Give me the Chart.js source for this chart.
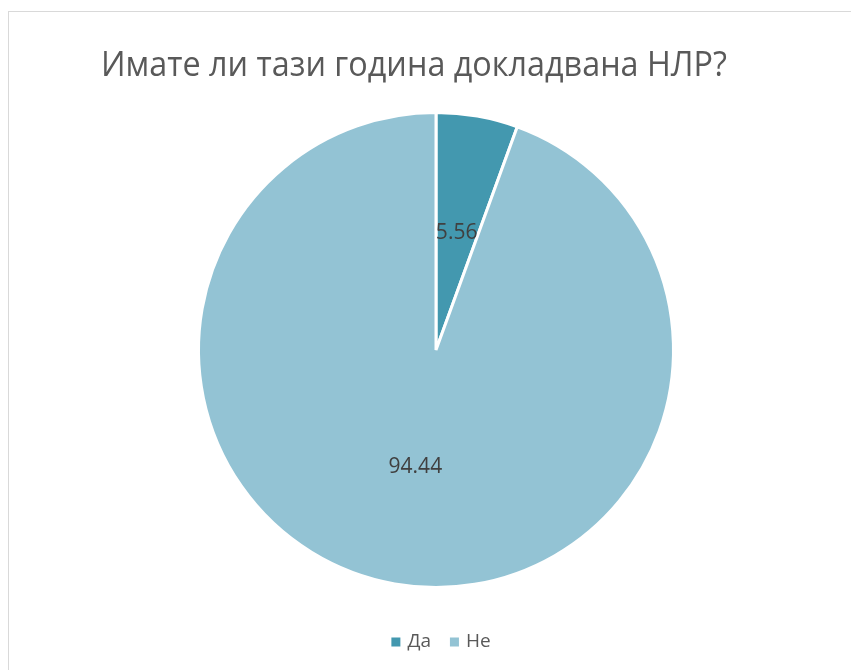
<!DOCTYPE html>
<html>
<head>
<meta charset="utf-8">
<script src="https://cdn.jsdelivr.net/npm/chart.js@4"></script>
<style>
  html, body { margin: 0; padding: 0; background: #fff; }
  #wrap { position: relative; width: 851px; height: 670px; overflow: hidden; }
  #frame { position: absolute; left: 8px; top: 11px; width: 900px; height: 700px;
           border-left: 1px solid #d9d9d9; border-top: 1px solid #d9d9d9; }
  #chart { position: absolute; left: 0; top: 0; }
</style>
</head>
<body>
<div id="wrap">
  <div id="frame"></div>
  <canvas id="chart" width="851" height="670"></canvas>
</div>
<script>
  // answers and their shares (%)
  const answers = ["Да", "Не"];
  const shares = [5.56, 94.44];
  const sliceColors = ["#4398AF", "#93C3D4"];
  const chartTitle = "Имате ли тази година докладвана НЛР?";

  // title drawn by hand so it can sit off the pie's centre line
  const titleText = {
    id: "titleText",
    afterDraw(chart) {
      const ctx = chart.ctx;
      ctx.save();
      ctx.font = "400 35px 'Open Sans'";
      ctx.fillStyle = "#595959";
      ctx.textAlign = "center";
      ctx.textBaseline = "alphabetic";
      const w = ctx.measureText(chartTitle).width;
      const sx = 626 / w;
      ctx.translate(414, 76);
      ctx.scale(sx, 1);
      ctx.fillText(chartTitle, 0, 0);
      ctx.restore();
    },
  };

  // value labels in the middle of each slice
  const sliceLabels = {
    id: "sliceLabels",
    afterDatasetsDraw(chart) {
      const ctx = chart.ctx;
      const meta = chart.getDatasetMeta(0);
      ctx.save();
      ctx.font = "21px 'Open Sans'";
      ctx.fillStyle = "#404040";
      ctx.textAlign = "center";
      ctx.textBaseline = "middle";
      meta.data.forEach((arc, i) => {
        const p = arc.tooltipPosition();
        ctx.fillText(shares[i].toFixed(2), p.x, p.y);
      });
      ctx.restore();
    },
  };

  // small square legend under the pie
  const bottomLegend = {
    id: "bottomLegend",
    afterDraw(chart) {
      const ctx = chart.ctx;
      ctx.save();
      ctx.font = "19px 'Open Sans'";
      ctx.textBaseline = "middle";
      const box = 9, gap = 7, between = 19;
      let total = 0;
      answers.forEach((a, i) => {
        total += box + gap + ctx.measureText(a).width;
        if (i < answers.length - 1) total += between;
      });
      let x = 441 - total / 2;
      const y = 642;
      answers.forEach((a, i) => {
        ctx.fillStyle = sliceColors[i];
        ctx.fillRect(x, y - box / 2, box, box);
        x += box + gap;
        ctx.fillStyle = "#595959";
        ctx.fillText(a, x, y);
        x += ctx.measureText(a).width + between;
      });
      ctx.restore();
    },
  };

  new Chart(document.getElementById("chart"), {
    type: "pie",
    data: {
      labels: answers,
      datasets: [
        {
          data: shares,
          backgroundColor: sliceColors,
          borderColor: "#ffffff",
          borderWidth: 3,
        },
      ],
    },
    options: {
      responsive: false,
      animation: false,
      layout: { padding: { top: 111, bottom: 81, left: 21, right: 0 } },
      plugins: {
        legend: { display: false },
        title: { display: false },
        tooltip: { enabled: false },
      },
    },
    plugins: [titleText, sliceLabels, bottomLegend],
  });
</script>
</body>
</html>
